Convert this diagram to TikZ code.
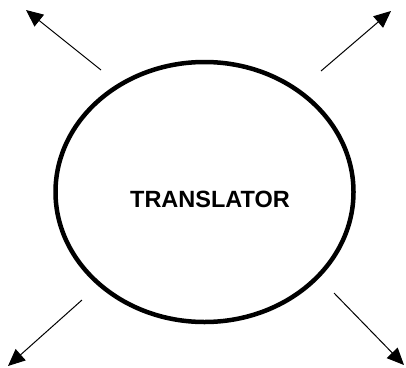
\documentclass[tikz,border=0pt]{standalone}
\usepackage{fontspec}
\setmainfont{Liberation Sans}
\usetikzlibrary{arrows.meta,shapes.geometric}

\begin{document}
\begin{tikzpicture}[x=1pt,y=1pt,yscale=-1]

\useasboundingbox (0,0) rectangle (406,367);

\tikzset{
    outarrow/.style={line width=1pt, -{Triangle[length=17pt,width=15pt]}}
}

% The translator ellipse
\node[draw, ellipse, line width=4.5pt, inner sep=0pt,
      minimum width=298pt, minimum height=260pt] (translator) at (204.5,192) {};
\node[font=\bfseries\fontsize{23.5}{28}\selectfont, inner sep=0pt] (title) at (210,199) {TRANSLATOR};

% Ends of the arrows
\coordinate (nwtail) at (101,70);
\coordinate (nwtip) at (26,10);
\coordinate (netail) at (321,71);
\coordinate (netip) at (391,11);
\coordinate (swtail) at (82,300);
\coordinate (swtip) at (8,366);
\coordinate (setail) at (334,293);
\coordinate (setip) at (404,365);

% Arrows pointing out
\draw[outarrow] (nwtail) -- (nwtip); % Upper left
\draw[outarrow] (netail) -- (netip); % Upper right
\draw[outarrow] (swtail) -- (swtip); % Lower left
\draw[outarrow] (setail) -- (setip); % Lower right

\end{tikzpicture}
\end{document}
